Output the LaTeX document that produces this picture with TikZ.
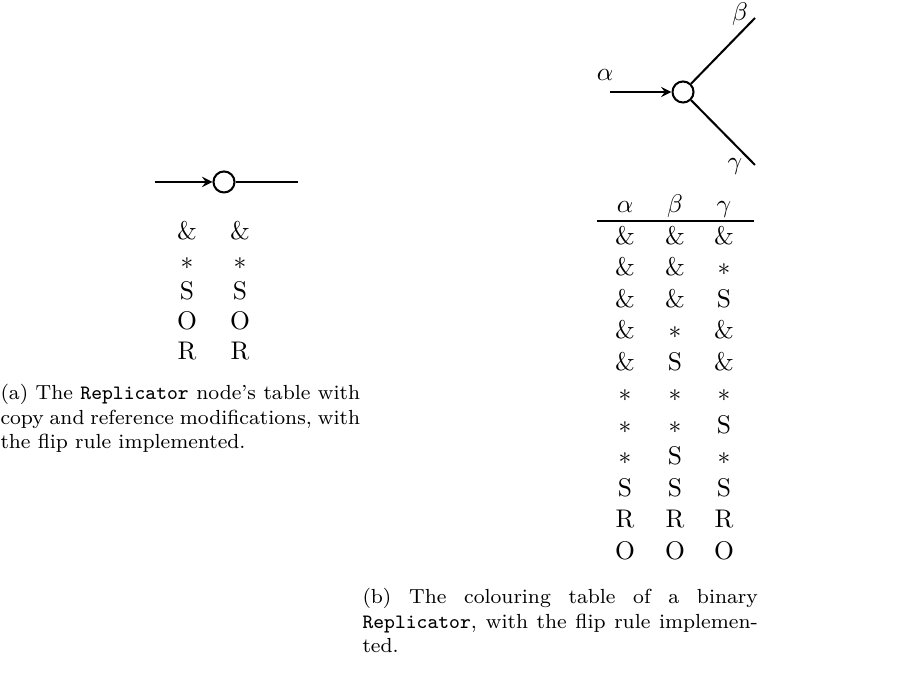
\documentclass[tikz,border=0pt]{standalone}
\usepackage{amsmath,amssymb}
\usetikzlibrary{arrows}
\hyphenation{implemen-ted}

\begin{document}
\begin{tikzpicture}[line join=round,>=stealth,
  vert/.style={circle,draw,thick,inner sep=0pt,minimum size=.29cm},
  entry/.style={inner sep=0pt,text height=1.6ex,text depth=.3ex},
  captext/.style={inner sep=0pt,anchor=north west,align=justify,
    font=\footnotesize}]
  \useasboundingbox (0,0) rectangle (12.362,9.275);
  % (a) the unary node
  \coordinate (ain) at (2.136,6.767);
  \node[vert] (arep) at (3.087,6.767) {};
  \coordinate (aout) at (4.107,6.767);
  \draw[thick,->] (ain) -- (arep);
  \draw[thick] (arep) -- (aout);
  \foreach \i/\v in {0/\&,1/$*$,2/S,3/O,4/R}{
    \node[entry] (al\i) at (2.577,{6.078-.4135*\i}) {\v};
    \node[entry] (ar\i) at (3.308,{6.078-.4135*\i}) {\v};
  }
  \node[captext,text width=141pt] (capa) at (0,3.983)
    {(a) The \texttt{Replicator} node's table with copy and reference
     modifications, with the flip rule implemented.};
  % (b) the binary node
  \node[vert] (brep) at (9.413,8.007) {};
  \coordinate (bin) at (8.407,8.007);
  \coordinate (bup) at (10.405,9.027);
  \coordinate (bdn) at (10.405,7.001);
  \draw[thick,->] (bin) -- (brep);
  \draw[thick] (brep) -- (bup);
  \draw[thick] (brep) -- (bdn);
  \node (lalpha) at (8.338,8.242) {$\alpha$};
  \node (lbeta) at (10.198,9.083) {$\beta$};
  \node (lgamma) at (10.130,6.974) {$\gamma$};
  \node[entry] (ha) at (8.614,6.450) {$\alpha$};
  \node[entry] (hb) at (9.303,6.450) {$\beta$};
  \node[entry] (hc) at (9.978,6.450) {$\gamma$};
  \coordinate (rulel) at (8.228,6.229);
  \coordinate (ruler) at (10.391,6.229);
  \draw[line width=.5pt] (rulel) -- (ruler);
  \foreach \i/\a/\b/\c in {0/\&/\&/\&,1/\&/\&/$*$,2/\&/\&/S,3/\&/$*$/\&,
    4/\&/S/\&,5/$*$/$*$/$*$,6/$*$/$*$/S,7/$*$/S/$*$,8/S/S/S,9/R/R/R,10/O/O/O}{
    \node[entry] (ta\i) at (8.614,{6.009-.4341*\i}) {\a};
    \node[entry] (tb\i) at (9.303,{6.009-.4341*\i}) {\b};
    \node[entry] (tc\i) at (9.978,{6.009-.4341*\i}) {\c};
  }
  \node[captext,text width=155pt] (capb) at (4.989,1.171)
    {(b) The colouring table of a binary \texttt{Replicator}, with the
     flip rule implemented.};
\end{tikzpicture}
\end{document}
